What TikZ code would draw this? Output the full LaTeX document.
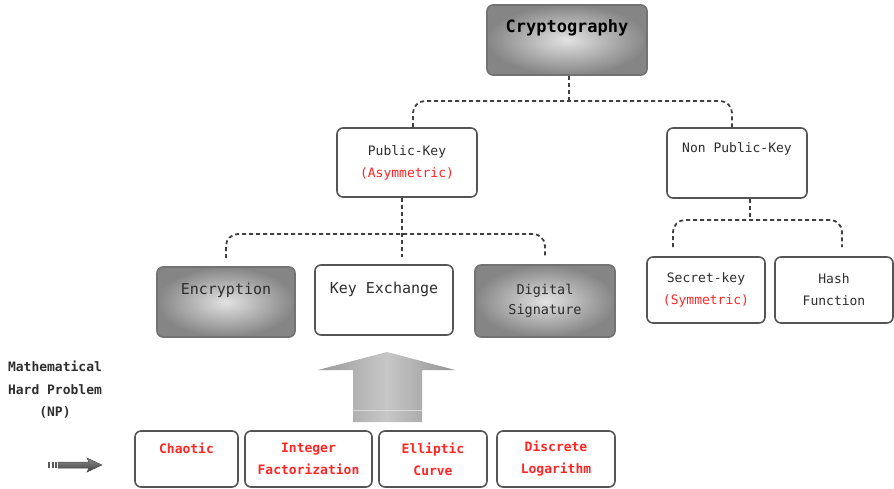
\documentclass[tikz,border=0pt]{standalone}
\usepackage{fontspec}
\setmonofont{DejaVu Sans Mono}
\usepackage{tikz}
\usetikzlibrary{calc}
\definecolor{edge}{HTML}{555555}
\definecolor{ink}{HTML}{2E2E2E}
\definecolor{hard}{HTML}{FF2626}
\definecolor{shadedark}{HTML}{858585}
\definecolor{shadelight}{HTML}{E2E2E2}
\tikzset{
  box/.style={draw=edge, line width=1.6pt, rounded corners=6pt, fill=white, inner sep=0pt,
    text=ink, font=\ttfamily\fontsize{13}{22}\selectfont},
  shadebox/.style={box, draw=black!55, inner color=shadelight, outer color=shadedark},
  two/.style={align=center},
  probbox/.style={box, minimum height=56pt, font=\ttfamily\bfseries\fontsize{13}{22}\selectfont, text=hard, align=center},
  conn/.style={draw=black!75, line width=1.8pt, dash pattern=on 4pt off 3pt, rounded corners=12pt},
}
\begin{document}
\begin{tikzpicture}[x=1pt, y={(0pt,-1pt)}]
  \useasboundingbox (0,0) rectangle (894,489);

  % top level
  \node[shadebox, minimum width=160pt, minimum height=70pt, text height=28pt, text depth=42pt,
    font=\ttfamily\bfseries\fontsize{17}{20}\selectfont, text=black] (crypt) at (567,40) {Cryptography};

  % second level
  \node[box, two, minimum width=140pt, minimum height=69pt] (pub) at (407,162.5)
    {Public-Key\\\textcolor{hard}{(Asymmetric)}};
  \node[box, minimum width=140pt, minimum height=70pt, text height=25pt, text depth=45pt] (npub) at (737,163)
    {Non Public-Key};

  % third level
  \node[shadebox, minimum width=138pt, minimum height=70pt, text height=27pt, text depth=43pt,
    font=\ttfamily\fontsize{15}{20}\selectfont] (enc) at (226,302) {Encryption};
  \node[box, minimum width=138pt, minimum height=70pt, text height=28pt, text depth=42pt,
    font=\ttfamily\fontsize{15}{20}\selectfont] (kex) at (384,300) {Key Exchange};
  \node[shadebox, two, minimum width=140pt, minimum height=72pt, font=\ttfamily\fontsize{13.5}{20}\selectfont]
    (dig) at (545,301) {Digital\\Signature};
  \node[box, two, minimum width=118pt, minimum height=66pt] (sec) at (706,290)
    {Secret-key\\\textcolor{hard}{(Symmetric)}};
  \node[box, two, minimum width=118pt, minimum height=66pt] (hash) at (834,290) {Hash\\Function};

  % hard problems
  \node[font=\ttfamily\bfseries\fontsize{13}{22.5}\selectfont, text=ink, align=center] (np) at (55,390)
    {Mathematical\\Hard Problem\\(NP)};
  \node[probbox, minimum width=103pt, text height=22pt, text depth=34pt, align=none] (chaos) at (186.5,459) {Chaotic};
  \node[probbox, minimum width=127pt] (intf) at (308.5,459) {Integer\\Factorization};
  \node[probbox, minimum width=108pt] (ell) at (433,459) {Elliptic\\Curve};
  \node[probbox, minimum width=118pt] (dlog) at (556,459) {Discrete\\Logarithm};

  % dashed tree
  \coordinate (j1) at (569,101);
  \coordinate (j2) at (402,234);
  \coordinate (j3) at (750,220);
  \draw[conn] (crypt.south -| j1) -- (j1);
  \draw[conn] ([xshift=6pt]pub.north) |- (j1) -| ([xshift=-5pt]npub.north);
  \draw[conn, shorten >=7pt] (pub.south -| j2) -- (j2 |- kex.north);
  \draw[conn, shorten <=8pt, shorten >=7pt] (enc.north) |- (j2) -| (dig.north);
  \draw[conn] (npub.south -| j3) -- (j3);
  \draw[conn, shorten <=9pt, shorten >=9pt] ([xshift=-33pt]sec.north) |- (j3) -| ([xshift=8pt]hash.north);

  % big arrow
  \shade[left color=black!40, right color=black!42, middle color=black!22]
    (387,352) -- (455,370) -- (422,370) -- (422,422) -- (353,422) -- (353,370) -- (318,370) -- cycle;
  \draw[white!85!black, line width=1pt] (353,410) -- (422,410);

  % small arrow
  \shade[top color=black!45, bottom color=black!75, draw=black!70, line width=0.5pt]
    (58,462) -- (89,462) -- (87,458) -- (102,465) -- (87,472) -- (89,468) -- (58,468) -- cycle;
  \foreach \sx in {48,51.5,55}
    \fill[black!65] (\sx,462) rectangle ++(2,6);
\end{tikzpicture}
\end{document}
